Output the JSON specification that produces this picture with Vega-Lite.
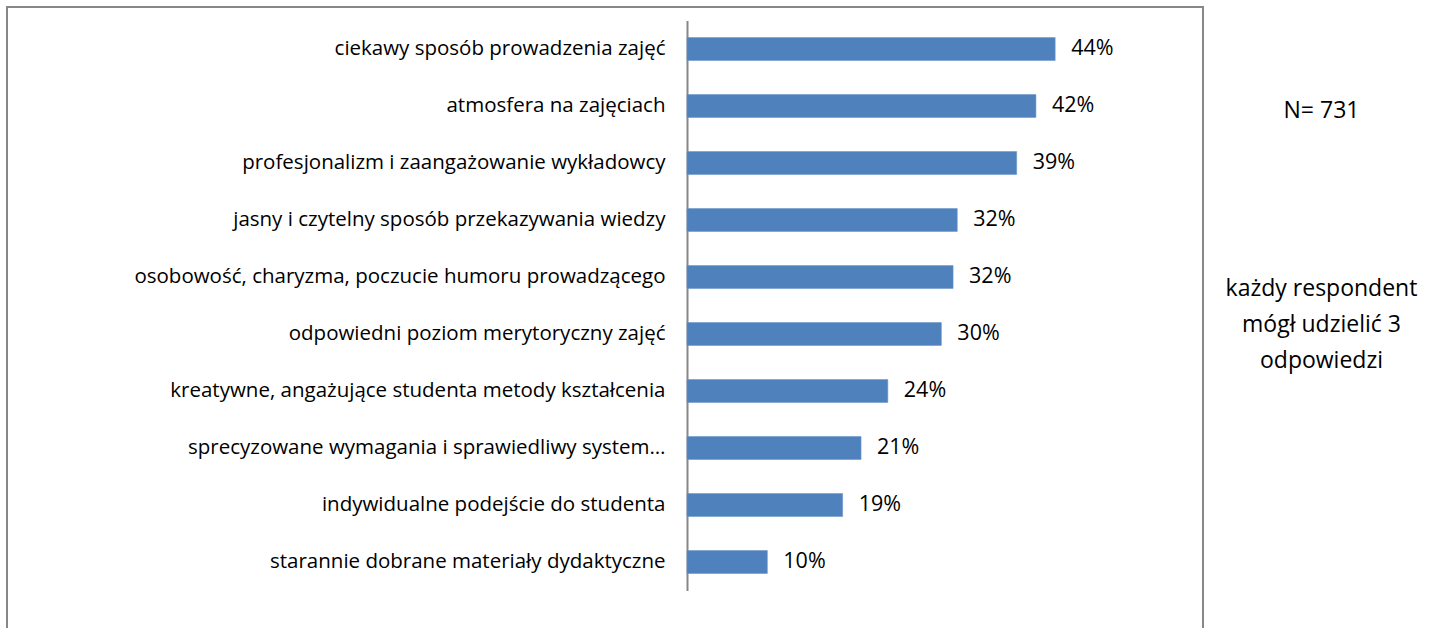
{
  "$schema": "https://vega.github.io/schema/vega-lite/v6.json",
  "width": 1196,
  "height": 640,
  "autosize": {"type": "none"},
  "padding": {"left": 7, "top": 7, "right": 228, "bottom": 0},
  "background": "white",
  "config": {
    "view": {"stroke": "#878787", "strokeWidth": 2},
    "font": "Open Sans"
  },
  "resolve": {"scale": {"y": "independent"}, "axis": {"y": "independent"}},
  "layer": [
    {
      "data": {
        "values": [
          {"item": "ciekawy sposób prowadzenia zajęć", "share": 0.44},
          {"item": "atmosfera na zajęciach", "share": 0.417},
          {"item": "profesjonalizm i zaangażowanie wykładowcy", "share": 0.394},
          {"item": "jasny i czytelny sposób przekazywania wiedzy", "share": 0.323},
          {"item": "osobowość, charyzma, poczucie humoru prowadzącego", "share": 0.318},
          {"item": "odpowiedni poziom merytoryczny zajęć", "share": 0.304},
          {"item": "kreatywne, angażujące studenta metody kształcenia", "share": 0.24},
          {"item": "sprecyzowane wymagania i sprawiedliwy system…", "share": 0.208},
          {"item": "indywidualne podejście do studenta", "share": 0.186},
          {"item": "starannie dobrane materiały dydaktyczne", "share": 0.096}
        ]
      },
      "encoding": {
        "y": {
          "field": "item",
          "type": "nominal",
          "sort": null,
          "scale": {"range": [13.5, 583.5], "paddingInner": 0.6, "paddingOuter": 0.3},
          "axis": {
            "title": null,
            "orient": "left",
            "offset": -680,
            "ticks": false,
            "grid": false,
            "domainColor": "#878787",
            "domainWidth": 2,
            "labelPadding": 22,
            "labelFontSize": 20.5,
            "labelFont": "Open Sans",
            "labelColor": "#000000",
            "labelLimit": 700
          }
        },
        "x": {
          "field": "share",
          "type": "quantitative",
          "scale": {"domain": [-0.8127, 0.6167], "nice": false, "zero": false},
          "axis": null
        }
      },
      "layer": [
        {
          "mark": {"type": "bar", "color": "#4F81BD", "stroke": "#6a95cb", "strokeWidth": 0.6},
          "encoding": {"x2": {"datum": 0}}
        },
        {
          "mark": {"type": "text", "align": "left", "baseline": "middle", "dx": 16, "fontSize": 21.5, "color": "#000000", "font": "Open Sans"},
          "encoding": {"text": {"field": "share", "type": "quantitative", "format": ".0%"}}
        }
      ]
    },
    {
      "data": {
        "values": [
          {"note": "N= 731"},
          {"note": "każdy respondent|mógł udzielić 3|odpowiedzi"}
        ]
      },
      "mark": {"type": "point", "opacity": 0},
      "encoding": {
        "y": {
          "field": "note",
          "type": "ordinal",
          "sort": null,
          "scale": {"type": "point", "range": [103, 281], "padding": 0},
          "axis": {
            "title": null,
            "orient": "right",
            "domain": false,
            "ticks": false,
            "grid": false,
            "labelPadding": 118,
            "labelAlign": "center",
            "labelBaseline": "middle",
            "labelFontSize": 23,
            "labelFont": "Open Sans",
            "labelColor": "#000000",
            "labelLimit": 400,
            "labelLineHeight": 36,
            "labelExpr": "split(datum.label, '|')"
          }
        }
      }
    }
  ]
}
